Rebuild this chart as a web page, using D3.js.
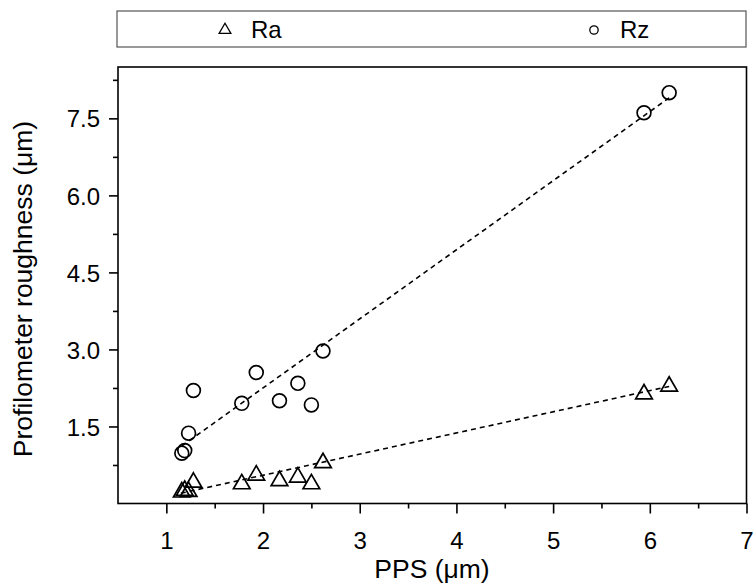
<!DOCTYPE html>
<html>
<head>
<meta charset="utf-8">
<script src="https://cdn.jsdelivr.net/npm/d3@7"></script>
<style>
  html, body { margin: 0; padding: 0; background: #fff; }
  svg { display: block; font-family: "Liberation Sans", Arial, sans-serif; }
</style>
</head>
<body>
<svg id="chart" width="756" height="583"></svg>
<script>
// ---- data ----
const pps = [1.16, 1.19, 1.23, 1.28, 1.78, 1.93, 2.17, 2.36, 2.50, 2.62, 5.94, 6.20];
const rz  = [0.98, 1.03, 1.37, 2.20, 1.95, 2.55, 2.00, 2.34, 1.92, 2.97, 7.61, 8.00];
const ra  = [0.24, 0.27, 0.25, 0.43, 0.40, 0.57, 0.46, 0.53, 0.40, 0.81, 2.15, 2.30];
// fitted lines (end points)
const rzFitX = [1.16, 6.20];
const rzFitY = [1.12, 7.90];
const raFitX = [1.15, 6.20];
const raFitY = [0.20, 2.28];
const xTicks = [1, 2, 3, 4, 5, 6, 7];
const xMinor = [1.5, 2.5, 3.5, 4.5, 5.5, 6.5];
const yTicks = [1.5, 3.0, 4.5, 6.0, 7.5];
const yMinor = [0.75, 2.25, 3.75, 5.25, 6.75, 8.25];
const legendNames = ["Ra", "Rz"];
const xTitle = "PPS (μm)";
const yTitle = "Profilometer roughness (μm)";

// ---- layout ----
const L = 118, R = 746.5, T = 67, B = 503.5;
const svg = d3.select("#chart");
const x = d3.scaleLinear().domain([0.5, 7]).range([L, R]);
const y = d3.scaleLinear().domain([0, 8.5]).range([B, T]);

// frame
svg.append("rect").attr("x", L).attr("y", T).attr("width", R - L).attr("height", B - T)
  .attr("fill", "none").attr("stroke", "#000").attr("stroke-width", 1.6);

// x axis
const xAxis = svg.append("g").attr("transform", `translate(0,${B})`)
  .call(d3.axisBottom(x).tickValues(xTicks).tickFormat(d3.format("d")).tickSize(10).tickSizeOuter(0));
svg.append("g").attr("transform", `translate(0,${B})`)
  .call(d3.axisBottom(x).tickValues(xMinor).tickFormat("").tickSize(5).tickSizeOuter(0));
// y axis
const yAxis = svg.append("g").attr("transform", `translate(${L},0)`)
  .call(d3.axisLeft(y).tickValues(yTicks).tickFormat(d3.format(".1f")).tickSize(9).tickSizeOuter(0));
svg.append("g").attr("transform", `translate(${L},0)`)
  .call(d3.axisLeft(y).tickValues(yMinor).tickFormat("").tickSize(5).tickSizeOuter(0));

svg.selectAll(".domain").remove();
svg.selectAll(".tick line").attr("stroke", "#000").attr("stroke-width", 1.6);
xAxis.selectAll(".tick text").attr("font-size", 24).attr("fill", "#000")
  .attr("font-family", "Liberation Sans, Arial, sans-serif").attr("y", 45).attr("dy", 0);
yAxis.selectAll(".tick text").attr("font-size", 24).attr("fill", "#000")
  .attr("font-family", "Liberation Sans, Arial, sans-serif").attr("x", -18).attr("dy", "0.36em");

// axis titles
svg.append("text").attr("x", 432).attr("y", 578).attr("text-anchor", "middle")
  .attr("font-size", 26.5).text(xTitle);
svg.append("text").attr("transform", `translate(32,289) rotate(-90)`)
  .attr("text-anchor", "middle").attr("font-size", 26.5).text(yTitle);

// fits
const line = d3.line().x(d => x(d[0])).y(d => y(d[1]));
svg.append("path").datum(d3.zip(rzFitX, rzFitY)).attr("d", line)
  .attr("fill", "none").attr("stroke", "#000").attr("stroke-width", 1.6).attr("stroke-dasharray", "5,4");
svg.append("path").datum(d3.zip(raFitX, raFitY)).attr("d", line)
  .attr("fill", "none").attr("stroke", "#000").attr("stroke-width", 1.6).attr("stroke-dasharray", "5,4");

// markers
const tri = d3.symbol().type(d3.symbolTriangle).size(120);
const circ = d3.symbol().type(d3.symbolCircle).size(150);
svg.append("g").selectAll("path").data(d3.zip(pps, rz)).join("path")
  .attr("d", circ).attr("transform", d => `translate(${x(d[0])},${y(d[1])})`)
  .attr("fill", "none").attr("stroke", "#000").attr("stroke-width", 1.7);
svg.append("g").selectAll("path").data(d3.zip(pps, ra)).join("path")
  .attr("d", tri).attr("transform", d => `translate(${x(d[0])},${y(d[1]) + 1})`)
  .attr("fill", "none").attr("stroke", "#000").attr("stroke-width", 1.7);

// legend
svg.append("rect").attr("x", 117).attr("y", 11).attr("width", 629).attr("height", 36)
  .attr("fill", "#fff").attr("stroke", "#555").attr("stroke-width", 1.2);
svg.append("path").attr("d", d3.symbol().type(d3.symbolTriangle).size(60))
  .attr("transform", "translate(225,30)").attr("fill", "none").attr("stroke", "#000").attr("stroke-width", 1.3);
svg.append("text").attr("x", 251).attr("y", 38).attr("font-size", 24).text(legendNames[0]);
svg.append("path").attr("d", d3.symbol().type(d3.symbolCircle).size(55))
  .attr("transform", "translate(594,30)").attr("fill", "none").attr("stroke", "#000").attr("stroke-width", 1.3);
svg.append("text").attr("x", 620).attr("y", 38).attr("font-size", 24).text(legendNames[1]);
</script>
</body>
</html>
